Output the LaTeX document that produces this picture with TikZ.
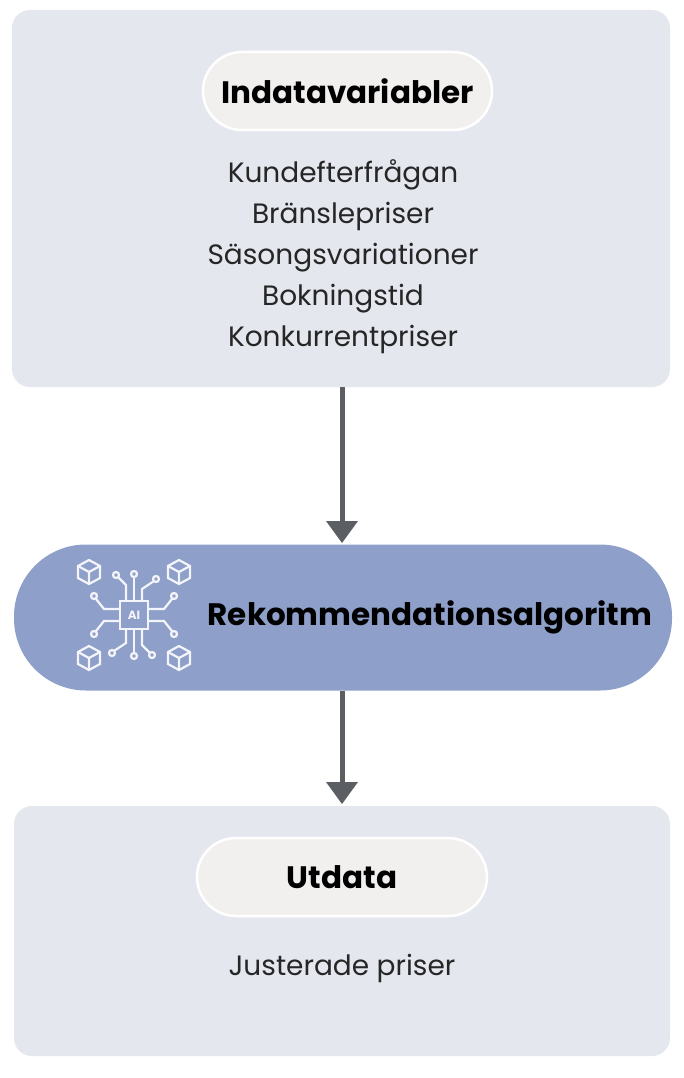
\documentclass[tikz,border=0pt]{standalone}
\usepackage{fontspec}
\setmainfont{Poppins}
\usetikzlibrary{arrows.meta}
\definecolor{boxbg}{HTML}{E4E7EE}
\definecolor{pillbg}{HTML}{F2F0EE}
\definecolor{algo}{HTML}{8E9FC9}
\definecolor{arr}{HTML}{5B5F63}
\begin{document}
\begin{tikzpicture}[x=1pt,y=-1pt,
  panel/.style={fill=boxbg,draw=none,rounded corners=18pt},
  pill/.style={fill=pillbg,draw=white,line width=2.5pt,rounded corners=39pt,minimum height=78pt,font=\fontsize{31}{34}\selectfont\bfseries},
  body/.style={font=\fontsize{28}{41}\selectfont,align=center,text=black!85},
  conn/.style={draw=arr,line width=5pt,-{Stealth[length=22pt,width=32pt,inset=0pt,line width=0pt,round]}},
  ico/.style={draw=white!90!algo,line width=2.2pt}]
\useasboundingbox (0,0) rectangle (684,1078);
\fill[white] (0,0) rectangle (684,1078);
\node[panel,minimum width=658pt,minimum height=377pt] (top) at (341,198.5) {};
\node[pill,minimum width=289pt] (in) at (347.5,91) {Indatavariabler};
\node[body] (list) at (343,257) {Kundefterfrågan\\Bränslepriser\\Säsongsvariationer\\Bokningstid\\Konkurrentpriser};
\node[fill=algo,rounded corners=72pt,minimum width=658pt,minimum height=146pt] (algo) at (343,617.5) {};
\node[font=\fontsize{31}{34}\selectfont\bfseries] (algtxt) at (430,617) {Rekommendationsalgoritm};
\node[panel,minimum width=656pt,minimum height=250pt] (bot) at (342,931) {};
\node[pill,minimum width=290pt] (out) at (342,877) {Utdata};
\node[body] (res) at (342,968) {Justerade priser};
\draw[conn] (top.south -| 342,0) -- (342,543) coordinate (a1);
\draw[conn] (algo.south -| 342,0) -- (342,804) coordinate (a2);
% icon
\begin{scope}[shift={(134,615)}]
  \draw[ico] (-14,-14) rectangle (14,14);
  \node[text=white!90!algo,font=\fontsize{12}{12}\selectfont\bfseries] (ai) at (0,0) {AI};
  \draw[ico] (-8,-14)--(-8,-30)--(-18,-40); \draw[ico,fill=algo] (-18,-40) circle (3);
  \draw[ico] (0,-14)--(0,-38); \draw[ico,fill=algo] (0,-41) circle (3);
  \draw[ico] (8,-14)--(8,-26)--(20,-34); \draw[ico,fill=algo] (22,-36) circle (3);
  \draw[ico] (-8,14)--(-8,28)--(-20,36); \draw[ico,fill=algo] (-22,38) circle (3);
  \draw[ico] (0,14)--(0,38); \draw[ico,fill=algo] (0,41) circle (3);
  \draw[ico] (8,14)--(8,30)--(18,40); \draw[ico,fill=algo] (18,40) circle (3);
  \draw[ico] (-14,-6)--(-30,-6)--(-38,-16); \draw[ico,fill=algo] (-40,-19) circle (3);
  \draw[ico] (-14,6)--(-30,6)--(-38,16); \draw[ico,fill=algo] (-40,19) circle (3);
  \draw[ico] (14,-6)--(30,-6)--(38,-16); \draw[ico,fill=algo] (40,-19) circle (3);
  \draw[ico] (14,6)--(30,6)--(38,16); \draw[ico,fill=algo] (40,19) circle (3);
  \foreach \sx/\sy in {-1/-1,1/-1,-1/1,1/1}{
    \begin{scope}[shift={(\sx*45,\sy*43)}]
      \draw[ico,fill=algo] (-11,-6) -- (0,-12) -- (11,-6) -- (11,6) -- (0,12) -- (-11,6) -- cycle;
      \draw[ico] (-11,-6) -- (0,0) -- (11,-6) (0,0) -- (0,12);
    \end{scope}}
\end{scope}
\end{tikzpicture}
\end{document}
